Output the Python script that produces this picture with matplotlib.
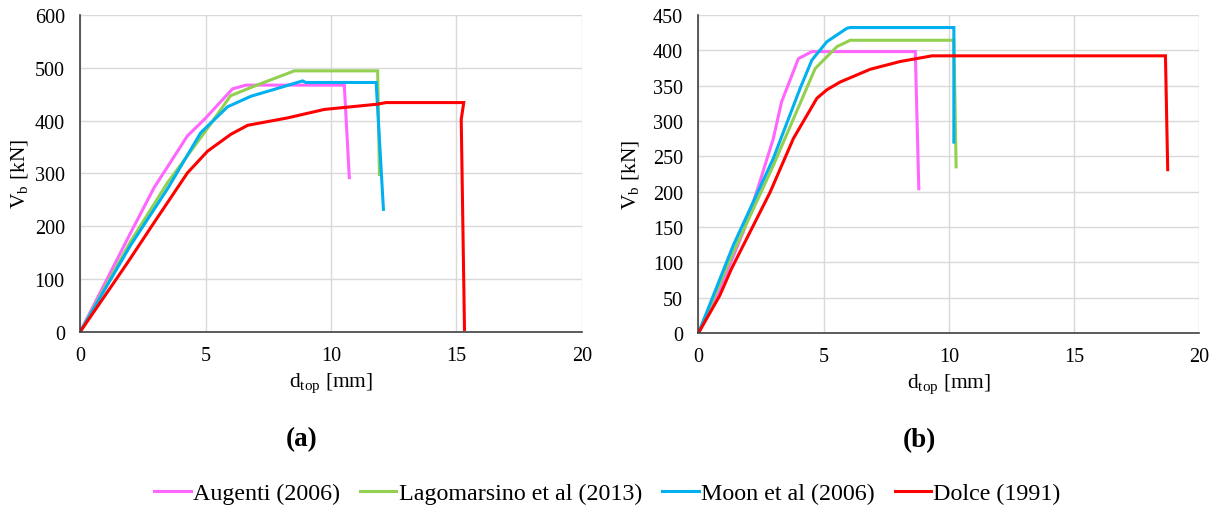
import matplotlib
matplotlib.use("Agg")
import matplotlib.pyplot as plt

plt.rcParams['font.family'] = ['Liberation Serif', 'DejaVu Serif']
plt.rcParams['mathtext.fontset'] = 'custom'
plt.rcParams['mathtext.rm'] = 'Liberation Serif'
plt.rcParams['mathtext.it'] = 'Liberation Serif:italic'

series_names = ["Augenti (2006)", "Lagomarsino et al (2013)", "Moon et al (2006)", "Dolce (1991)"]
series_colors = ["#FF66FF", "#92D050", "#00B0F0", "#FF0000"]

# panel (a): displacement [mm], base shear [kN]
a_augenti_d = [0, 2.02, 2.95, 4.28, 4.95, 6.08, 6.61, 10.53, 10.73]
a_augenti_v = [0, 188, 273, 371, 402, 460, 467, 467, 292]
a_lago_d = [0, 2.0, 3.48, 5.0, 6.0, 6.94, 8.54, 11.86, 11.93]
a_lago_v = [0, 170, 282, 380, 447, 465, 494, 494, 298]
a_moon_d = [0, 2.0, 3.5, 4.81, 5.88, 6.81, 7.74, 8.87, 9.0, 11.8, 12.09]
a_moon_v = [0, 163, 272, 377, 426, 446, 459, 475, 472, 472, 232]
a_dolce_d = [0, 1.89, 2.95, 4.28, 5.08, 6.01, 6.68, 8.27, 9.73, 11.86, 12.19, 15.29, 15.19, 15.32]
a_dolce_v = [0, 131, 207, 301, 342, 374, 391, 405, 421, 431, 434, 434, 402, 5]

# panel (b)
b_augenti_d = [0, 0.85, 1.79, 2.32, 2.99, 3.32, 3.99, 4.53, 8.66, 8.8]
b_augenti_v = [0, 62, 143, 199, 275, 327, 388, 398, 398, 204]
b_lago_d = [0, 1.39, 2.99, 4.66, 5.53, 6.06, 10.2, 10.29]
b_lago_v = [0, 114, 237, 374, 405, 414, 414, 235]
b_moon_d = [0, 1.39, 2.99, 4.06, 4.53, 5.13, 5.93, 6.06, 10.2, 10.2]
b_moon_v = [0, 124, 247, 346, 386, 412, 431, 432, 432, 270]
b_dolce_d = [0, 0.85, 1.32, 2.19, 2.86, 3.79, 4.73, 5.13, 5.66, 6.86, 8.06, 9.33, 18.65, 18.74]
b_dolce_v = [0, 53, 91, 152, 199, 275, 332, 344, 355, 373, 384, 392, 392, 231]

panel_a = [(a_augenti_d, a_augenti_v), (a_lago_d, a_lago_v), (a_moon_d, a_moon_v), (a_dolce_d, a_dolce_v)]
panel_b = [(b_augenti_d, b_augenti_v), (b_lago_d, b_lago_v), (b_moon_d, b_moon_v), (b_dolce_d, b_dolce_v)]

fig = plt.figure(figsize=(12.2, 5.1), dpi=100)
ax_a = fig.add_axes([0.0656, 0.347, 0.4114, 0.622])
ax_b = fig.add_axes([0.5725, 0.345, 0.4105, 0.624])


def style_axes(ax, ymax, ystep, panel_label, ylabelpad):
    ax.set_xlim(0, 20)
    ax.set_ylim(0, ymax)
    ax.set_xticks(range(0, 21, 5))
    ax.set_yticks(range(0, ymax + 1, ystep))
    ax.grid(True, color="#D9D9D9", linewidth=1)
    ax.set_axisbelow(True)
    for side in ["top", "right"]:
        ax.spines[side].set_visible(False)
    for side in ["left", "bottom"]:
        ax.spines[side].set_color("#404040")
        ax.spines[side].set_linewidth(1.2)
    ax.tick_params(axis="y", length=0, labelsize=14.5, pad=11)
    ax.tick_params(axis="x", length=0, labelsize=14.5, pad=10)
    ax.set_xlabel(r"d$_{\mathrm{top}}$ [mm]", fontsize=15.5, labelpad=4)
    ax.set_ylabel(r"V$_{\mathrm{b}}$ [kN]", fontsize=15.5, labelpad=ylabelpad)
    ax.text(0.441, -0.335, panel_label, transform=ax.transAxes, ha="center", va="center",
            fontsize=19.5, fontweight="bold")


lines = []
for (d, v), color, name in zip(panel_a, series_colors, series_names):
    ln, = ax_a.plot(d, v, color=color, linewidth=2.2, label=name, solid_joinstyle="miter")
    lines.append(ln)
for (d, v), color in zip(panel_b, series_colors):
    ax_b.plot(d, v, color=color, linewidth=2.2, solid_joinstyle="miter")

style_axes(ax_a, 600, 100, "(a)", 3)
style_axes(ax_b, 450, 50, "(b)", 9)

fig.legend(handles=lines, loc="center", bbox_to_anchor=(0.498, 0.031), ncol=4, frameon=False,
           fontsize=17.3, handlelength=1.5, handletextpad=0.1, columnspacing=0.85)

fig.savefig("out.png", dpi=100, facecolor="white")
